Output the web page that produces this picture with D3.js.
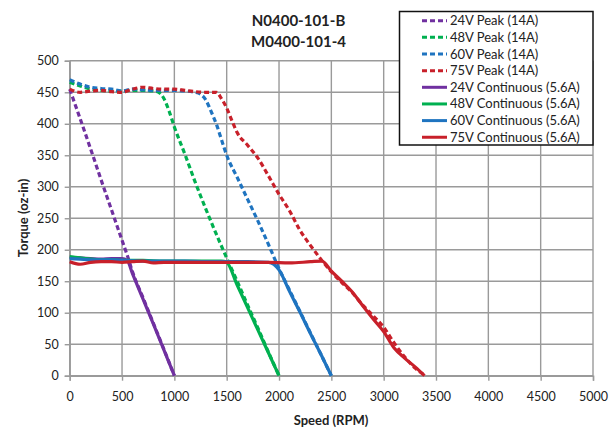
<!DOCTYPE html>
<html><head><meta charset="utf-8">
<script src="https://cdn.jsdelivr.net/npm/d3@7"></script>
<style>body{margin:0;background:#fff}svg{display:block}</style>
</head><body><svg id="c" width="615" height="432"></svg>
<script>
const titleLines = ["N0400-101-B", "M0400-101-4"];
const xTicks = [0,500,1000,1500,2000,2500,3000,3500,4000,4500,5000];
const yTicks = [0,50,100,150,200,250,300,350,400,450,500];
const seriesNames = ["24V Peak (14A)","48V Peak (14A)","60V Peak (14A)","75V Peak (14A)",
  "24V Continuous (5.6A)","48V Continuous (5.6A)","60V Continuous (5.6A)","75V Continuous (5.6A)"];
const seriesColors = ["#7030a0","#00b050","#1f74c0","#c8202a","#7030a0","#00b050","#1f74c0","#c8202a"];
const seriesDashed = [true,true,true,true,false,false,false,false];

const peak24 = [[0,455],[100,408],[200,360],[300,311],[400,263],[500,215],[560,186],[600,165],[700,124],[800,83],[900,42],[1000,0]];
const peak48 = [[0,466],[100,460],[200,455],[300,453],[400,452],[500,452],[600,453],[700,453],[800,452],[850,450],[900,440],[950,420],[1000,395],[1100,352],[1200,307],[1300,265],[1400,225],[1500,187],[1600,150],[1700,112],[1800,75],[1900,37],[2000,0]];
const peak60 = [[0,470],[100,463],[200,458],[300,456],[400,455],[500,452],[600,455],[700,454],[800,453],[900,453],[1000,453],[1100,452],[1200,450],[1250,447],[1300,438],[1350,420],[1400,400],[1450,375],[1500,350],[1600,315],[1700,280],[1800,245],[1900,208],[2000,170],[2100,136],[2200,102],[2300,68],[2400,34],[2500,0]];
const peak75 = [[0,455],[100,450],[200,452],[300,453],[400,451],[500,450],[600,455],[700,458],[800,456],[900,455],[1000,455],[1100,453],[1200,451],[1300,450],[1400,450],[1450,440],[1500,425],[1550,405],[1600,386],[1700,366],[1800,345],[1900,317],[2000,288],[2100,262],[2200,231],[2300,207],[2400,185],[2500,165],[2600,148],[2700,132],[2800,112],[2900,95],[3000,77],[3100,52],[3200,30],[3300,12],[3400,0]];
const cont24 = [[0,188],[100,187],[200,186],[300,185],[400,186],[500,186],[550,183],[600,162],[700,122],[800,82],[900,41],[1000,0]];
const cont48 = [[0,189],[100,187],[200,185],[300,184],[400,184],[500,183],[700,183],[900,182],[1100,182],[1300,182],[1450,182],[1500,180],[1600,144],[1700,108],[1800,72],[1900,36],[2000,0]];
const cont60 = [[0,186],[100,185],[200,184],[300,184],[400,184],[500,183],[700,182],[900,182],[1100,182],[1300,181],[1500,181],[1700,181],[1900,180],[2000,168],[2100,134],[2200,101],[2300,67],[2400,34],[2500,0]];
const cont75 = [[0,181],[100,177],[200,180],[300,181],[400,181],[500,180],[600,181],[700,182],[800,179],[900,180],[1100,180],[1300,180],[1500,180],[1700,180],[1900,180],[2100,179],[2300,181],[2410,182],[2500,166],[2600,150],[2700,133],[2800,111],[2900,90],[3000,70],[3100,44],[3200,28],[3300,14],[3390,0]];
const seriesData = [peak24, peak48, peak60, peak75, cont24, cont48, cont60, cont75];

const svg = d3.select("#c");
const x = d3.scaleLinear().domain([0,5000]).range([69.7,593]);
const y = d3.scaleLinear().domain([0,500]).range([375.7,60.8]);
const font = "Lato, 'Open Sans', sans-serif";
const gridCol = "#9a9a9a";

// grid
svg.append("g").selectAll("line").data(yTicks).join("line")
  .attr("x1", x(0)).attr("x2", x(5000)).attr("y1", d=>y(d)).attr("y2", d=>y(d))
  .attr("stroke", gridCol).attr("stroke-width", 1.4);
svg.append("g").selectAll("line").data(xTicks).join("line")
  .attr("y1", y(0)).attr("y2", y(500)).attr("x1", d=>x(d)).attr("x2", d=>x(d))
  .attr("stroke", gridCol).attr("stroke-width", 1.4);

// axes
const xAxis = svg.append("g").attr("transform", `translate(0,${y(0)})`)
  .call(d3.axisBottom(x).tickValues(xTicks).tickSize(5).tickPadding(11).tickFormat(d3.format("d")));
const yAxis = svg.append("g").attr("transform", `translate(${x(0)},0)`)
  .call(d3.axisLeft(y).tickValues(yTicks).tickSize(5).tickPadding(6).tickFormat(d3.format("d")));
[xAxis, yAxis].forEach(a => {
  a.selectAll("path,line").attr("stroke", gridCol).attr("stroke-width", 1.4);
  a.selectAll("text").attr("fill", "#222").style("font-family", font).style("font-size", "12.5px");
});

// series
const line = d3.line().x(d=>x(d[0])).y(d=>y(d[1])).curve(d3.curveMonotoneX);
seriesData.forEach((data, i) => {
  svg.append("path").datum(data).attr("d", line).attr("fill","none")
    .attr("stroke", seriesColors[i]).attr("stroke-width", 3.2)
    .attr("stroke-dasharray", seriesDashed[i] ? "5,3" : null)
    .attr("stroke-linejoin","round");
});

// titles
svg.append("g").selectAll("text").data(titleLines).join("text")
  .attr("x", 298.5).attr("y", (d,i)=> 25.5 + i*21.5).attr("text-anchor","middle")
  .style("font-family", font).style("font-weight","bold").style("font-size","15px").attr("fill","#222")
  .text(d=>d);
svg.append("text").attr("x", 331).attr("y", 425).attr("text-anchor","middle")
  .style("font-family", font).style("font-weight","bold").style("font-size","13px").attr("fill","#222")
  .text("Speed (RPM)");
svg.append("text").attr("transform","translate(28,218) rotate(-90)").attr("text-anchor","middle")
  .style("font-family", font).style("font-weight","bold").style("font-size","13px").attr("fill","#222")
  .text("Torque (oz-in)");

// legend
const lg = svg.append("g");
lg.append("rect").attr("x",399.5).attr("y",11.5).attr("width",193.5).attr("height",133.5)
  .attr("fill","#fff").attr("stroke","#111").attr("stroke-width",1.5);
seriesNames.forEach((name,i)=>{
  const yy = 20.7 + i*16.65;
  lg.append("line").attr("x1",422).attr("x2",447).attr("y1",yy).attr("y2",yy)
    .attr("stroke",seriesColors[i]).attr("stroke-width",3)
    .attr("stroke-dasharray", seriesDashed[i] ? "5,3" : null);
  lg.append("text").attr("x",450).attr("y",yy+4.5)
    .style("font-family", font).style("font-size","13px").attr("fill","#222").text(name);
});
</script></body></html>
